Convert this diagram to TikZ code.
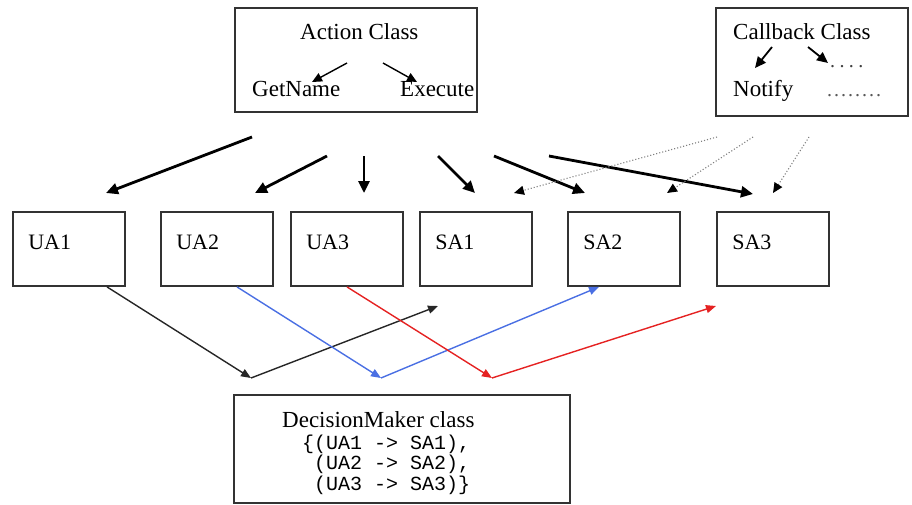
\documentclass[tikz,border=0pt]{standalone}
\usepackage{fontspec}
\setmainfont{Liberation Serif}
\setmonofont{Liberation Mono}
\usetikzlibrary{arrows.meta,calc}

\definecolor{boxline}{HTML}{333333}
\definecolor{mapblue}{HTML}{4A6FE3}
\definecolor{mapred}{HTML}{E52222}

\tikzset{
  classbox/.style={draw=boxline, line width=1.8pt, rectangle, inner sep=0pt},
  actbox/.style={classbox, minimum width=112pt, minimum height=74pt},
  boxlabel/.style={anchor=west, inner sep=0pt, font=\fontsize{22}{24}\selectfont, xshift=16pt, yshift=-31pt},
  txt/.style={anchor=base west, inner sep=0pt, font=\fontsize{23}{25}\selectfont},
  code/.style={anchor=base west, inner sep=0pt, font=\ttfamily\fontsize{20}{22}\selectfont},
  dots/.style={anchor=base west, inner sep=0pt, font=\fontsize{20}{22}\selectfont, text=black!65},
  bigarrow/.style={line width=2.8pt, -{Triangle[length=12pt, width=11pt]}},
  callarrow/.style={gray, line width=1.1pt, dotted, -{Triangle[length=10pt, width=9pt, fill=black, color=black]}},
  innerarrow/.style={line width=1.4pt, -{Triangle[length=10pt, width=9pt]}},
  maparrow/.style={line width=1.4pt, -{Triangle[length=10pt, width=8pt]}},
}

\begin{document}
\begin{tikzpicture}[x=1pt, y=-1pt]
\useasboundingbox (0,0) rectangle (912,504);

% class boxes
\node[classbox, minimum width=242pt, minimum height=104pt] (action) at (356,60) {};
\node[classbox, minimum width=192pt, minimum height=108pt] (callback) at (812,62) {};
\node[classbox, minimum width=336pt, minimum height=108pt] (decision) at (402,449) {};

% action class contents
\node[txt] (acttitle) at (300,39) {Action Class};
\node[txt] (getname) at (252,96) {GetName};
\node[txt] (execute) at (400,96) {Execute};
\coordinate (a1) at (347,63);
\coordinate (a1t) at (312,82);
\coordinate (a2) at (383,63);
\coordinate (a2t) at (417,82);
\draw[innerarrow] (a1) -- (a1t);
\draw[innerarrow] (a2) -- (a2t);

% callback class contents
\node[txt] (cbtitle) at (733,39) {Callback Class};
\node[txt] (notify) at (733,96) {Notify};
\node[dots, text=black!75] (dotsa) at (830,67) {\addfontfeature{LetterSpace=22}....};
\node[dots] (dotsb) at (827,96) {\addfontfeature{LetterSpace=10}........};
\coordinate (c1) at (772,47);
\coordinate (c1t) at (755,68);
\coordinate (c2) at (808,47);
\coordinate (c2t) at (828,63);
\draw[line width=1.8pt, -{Triangle[length=11pt, width=10pt]}] (c1) -- (c1t);
\draw[line width=1.8pt, -{Triangle[length=11pt, width=10pt]}] (c2) -- (c2t);

% decision maker contents
\node[txt] (dmtitle) at (282,427) {DecisionMaker class};
\node[code] (map1) at (302,449) {\{(UA1 -> SA1),};
\node[code] (map2) at (314,469) {(UA2 -> SA2),};
\node[code] (map3) at (314,490) {(UA3 -> SA3)\}};

% action boxes
\node[actbox, label={[boxlabel]north west:UA1}] (UA1) at (69,249) {};
\node[actbox, label={[boxlabel]north west:UA2}] (UA2) at (217,249) {};
\node[actbox, label={[boxlabel]north west:UA3}] (UA3) at (347,249) {};
\node[actbox, label={[boxlabel]north west:SA1}] (SA1) at (476,249) {};
\node[actbox, label={[boxlabel]north west:SA2}] (SA2) at (624,249) {};
\node[actbox, label={[boxlabel]north west:SA3}] (SA3) at (773,249) {};

% inheritance arrows from the action class
\coordinate (t1) at (252,137);  \coordinate (h1) at (106,193);
\coordinate (t2) at (327,156);  \coordinate (h2) at (255,193);
\coordinate (t3) at (364,156);  \coordinate (h3) at (364,193);
\coordinate (t4) at (438,156);  \coordinate (h4) at (475,193);
\coordinate (t5) at (494,156);  \coordinate (h5) at (585,193);
\coordinate (t6) at (549,156);  \coordinate (h6) at (753,194);
\foreach \i in {1,...,6} \draw[bigarrow] (t\i) -- (h\i);

% callback arrows
\coordinate (d1) at (717,137);  \coordinate (e1) at (514,193);
\coordinate (d2) at (753,137);  \coordinate (e2) at (667,193);
\coordinate (d3) at (809,137);  \coordinate (e3) at (773,193);
\foreach \i in {1,2,3} \draw[callarrow] (d\i) -- (e\i);

% mappings through the decision maker
\coordinate (v1) at (251,378);
\coordinate (v2) at (381,378);
\coordinate (v3) at (492,378);
\coordinate (end1) at (438,306);
\coordinate (end3) at (716,306);
\draw[maparrow, black!85] ([xshift=38pt]UA1.south) -- (v1);
\draw[maparrow, black!85] (v1) -- (end1);
\draw[maparrow, mapblue] ([xshift=20pt]UA2.south) -- (v2);
\draw[maparrow, mapblue] (v2) -- ([xshift=-25pt]SA2.south);
\draw[maparrow, mapred] (UA3.south) -- (v3);
\draw[maparrow, mapred] (v3) -- (end3);
\end{tikzpicture}
\end{document}
